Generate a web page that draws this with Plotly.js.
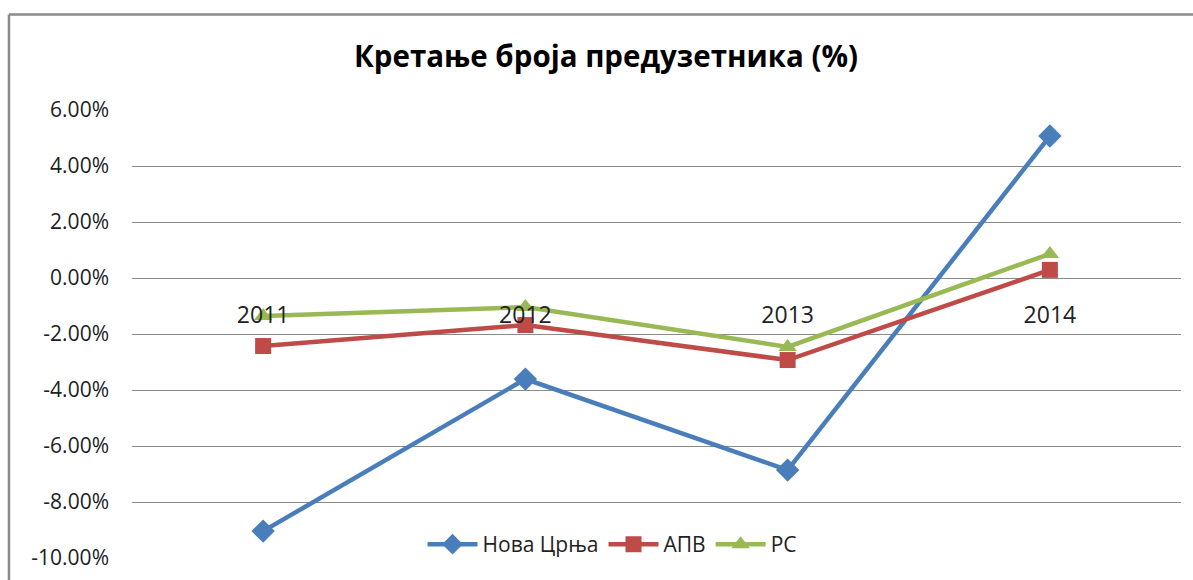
<!DOCTYPE html>
<html>
<head>
<meta charset="utf-8">
<script src="https://cdn.plot.ly/plotly-3.0.1.min.js"></script>
<style>html,body{margin:0;padding:0;background:#fff;}#chart{width:1193px;height:580px;}</style>
</head>
<body>
<div id="chart"></div>
<script>
const years = ['2011', '2012', '2013', '2014'];
const novaCrnja = [-9.04, -3.61, -6.86, 5.07];
const apv = [-2.43, -1.68, -2.93, 0.29];
const rs = [-1.36, -1.04, -2.46, 0.86];
const seriesNames = ['Нова Црња', 'АПВ', 'РС'];
const yTicks = [6, 4, 2, 0, -2, -4, -6, -8, -10];
const yTickText = yTicks.map(v => v.toFixed(2) + '%');

const FONT = '"Open Sans", sans-serif';

const traces = [
  {x: years, y: novaCrnja, name: seriesNames[0], mode: 'lines+markers', type: 'scatter',
   line: {color: '#4A7EBB', width: 4.5}, marker: {symbol: 'diamond', size: 18, color: '#4A7EBB'}},
  {x: years, y: apv, name: seriesNames[1], mode: 'lines+markers', type: 'scatter',
   line: {color: '#BE4B48', width: 4.5}, marker: {symbol: 'square', size: 16, color: '#BE4B48'}},
  {x: years, y: rs, name: seriesNames[2], mode: 'lines+markers', type: 'scatter',
   line: {color: '#98B954', width: 4.5}, marker: {symbol: 'triangle-up', size: 16, color: '#98B954'}}
];

const layout = {
  width: 1193, height: 580,
  margin: {l: 132, r: 12, t: 110, b: 22},
  paper_bgcolor: '#fff', plot_bgcolor: '#fff',
  font: {family: FONT, color: '#222', size: 20},
  title: {text: '<b>Кретање броја предузетника (%)</b>', font: {family: FONT, size: 29.5, color: '#000'},
          x: 0.508, xanchor: 'center', y: 0.902, yanchor: 'middle'},
  showlegend: true,
  legend: {orientation: 'h', x: 0.4576, xanchor: 'center', y: 0.03, yanchor: 'middle',
           bgcolor: 'rgba(0,0,0,0)', font: {family: FONT, size: 21, color: '#222'},
           itemwidth: 50, tracegroupgap: 0},
  xaxis: {type: 'category', range: [-0.5, 3.5], anchor: 'free', position: 0.625, showline: false, showgrid: false,
          zeroline: false, ticks: '', ticklabelstandoff: 21,
          tickfont: {family: FONT, size: 23, color: '#222'}},
  yaxis: {range: [-10, 6], tickvals: yTicks, ticktext: yTickText, showgrid: true,
          gridcolor: '#8a8a8a', gridwidth: 1, zeroline: true, zerolinecolor: '#8a8a8a', zerolinewidth: 1,
          showline: false, ticks: '', ticklabelstandoff: 22,
          tickfont: {family: FONT, size: 21, color: '#222'}},
  shapes: [
    {type: 'line', xref: 'paper', yref: 'paper', x0: -0.1173, x1: 1.02, y0: 1.213, y1: 1.213,
     line: {color: '#8a8a8a', width: 2.5}},
    {type: 'line', xref: 'paper', yref: 'paper', x0: -0.1173, x1: -0.1173, y0: 1.213, y1: -0.1,
     line: {color: '#8a8a8a', width: 2.5}}
  ]
};

Plotly.newPlot('chart', traces, layout, {displayModeBar: false, staticPlot: true});
</script>
</body>
</html>
